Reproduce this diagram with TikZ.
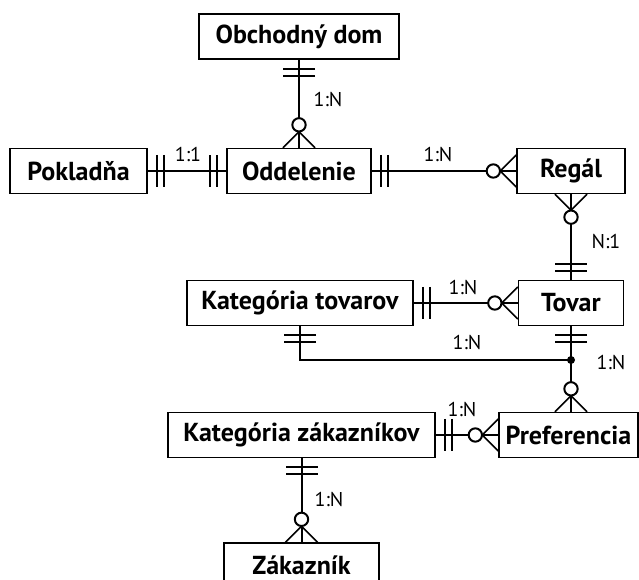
\documentclass[tikz,border=0pt]{standalone}
\usepackage{fontspec}
\setmainfont{PT Sans}
\usetikzlibrary{positioning,calc}

\tikzset{
  entity/.style={draw,line width=1pt,inner sep=0pt,minimum height=33.75pt,
    font=\bfseries\fontsize{19.5}{21}\selectfont},
  conn/.style={line width=1.5pt},
  card/.style={inner sep=0pt,font=\fontsize{15}{17}\selectfont},
  % cardinality marks, drawn pointing along +x away from the entity
  one/.pic={\draw[conn] (9,-16) -- (9,16) (16,-16) -- (16,16);},
  many/.pic={\draw[line width=1.2pt] (0,-16) -- (16,0) -- (0,16);
    \draw[conn,fill=white] (23,0) circle[radius=5pt];}
}

\begin{document}
\begin{tikzpicture}[x=0.75pt,y=-0.75pt]
  \clip (0,0) rectangle (639,580);
  % entities
  \node[entity,minimum width=150pt] (obch) at (299,36.5) {Obchodný dom};
  \node[entity,minimum width=108pt] (odd) at (299,171) {Oddelenie};
  \node[entity,minimum width=102.75pt] (pokl) at (78.5,171) {Pokladňa};
  \node[entity,minimum width=81pt] (regal) at (571,171) {Regál};
  \node[entity,minimum width=169.5pt] (kt) at (300,303) {Kategória tovarov};
  \node[entity,minimum width=78.75pt] (tovar) at (571,303) {Tovar};
  \node[entity,minimum width=200.25pt] (kz) at (301.5,435) {Kategória zákazníkov};
  \node[entity,minimum width=104.25pt] (pref) at (568.5,435) {Preferencia};
  \node[entity,minimum width=116.25pt] (zak) at (301.5,565.5) {Zákazník};
  \coordinate (join) at (571,360);

  % relationships
  \draw[conn] (obch) -- (odd);
  \pic[rotate=-90] at (obch.south) {one};
  \pic[rotate=90] at (odd.north) {many};

  \draw[conn] (pokl) -- (odd);
  \pic at (pokl.east) {one};
  \pic[rotate=180] at (odd.west) {one};

  \draw[conn] (odd) -- (regal);
  \pic at (odd.east) {one};
  \pic[rotate=180] at (regal.west) {many};

  \draw[conn] (regal) -- (tovar);
  \pic[rotate=-90] at (regal.south) {many};
  \pic[rotate=90] at (tovar.north) {one};

  \draw[conn] (kt) -- (tovar);
  \pic at (kt.east) {one};
  \pic[rotate=180] at (tovar.west) {many};

  \draw[conn] (tovar.south) -- (join) -- (join |- pref.north);
  \draw[conn] (kt.south) |- (join);
  \fill (join) circle[radius=3pt];
  \pic[rotate=-90] at (kt.south) {one};
  \pic[rotate=-90] at (tovar.south) {one};
  \pic[rotate=90] at (join |- pref.north) {many};

  \draw[conn] (kz) -- (pref);
  \pic at (kz.east) {one};
  \pic[rotate=180] at (pref.west) {many};

  \draw[conn] (kz) -- (zak);
  \pic[rotate=-90] at (kz.south) {one};
  \pic[rotate=90] at (zak.north) {many};

  % cardinalities
  \node[card] (c1) at (328,100) {1:N};
  \node[card] (c2) at (188,155) {1:1};
  \node[card] (c3) at (438,155) {1:N};
  \node[card] (c4) at (606,242) {N:1};
  \node[card] (c5) at (463,288) {1:N};
  \node[card] (c6) at (467,343) {1:N};
  \node[card] (c7) at (611,363) {1:N};
  \node[card] (c8) at (462,410) {1:N};
  \node[card] (c9) at (329,500) {1:N};
\end{tikzpicture}
\end{document}
